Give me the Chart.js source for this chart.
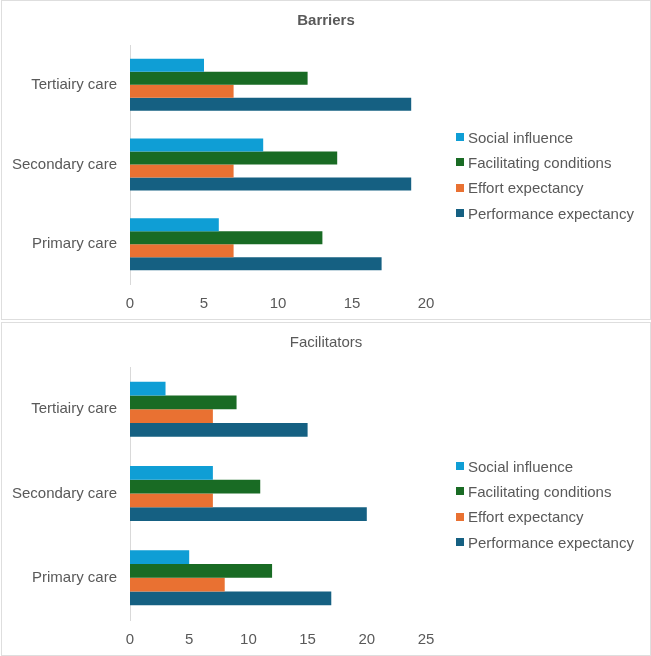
<!DOCTYPE html>
<html>
<head>
<meta charset="utf-8">
<script src="https://cdn.jsdelivr.net/npm/chart.js@4.4.0/dist/chart.umd.min.js"></script>
<style>
html,body{margin:0;padding:0;background:#fff;width:651px;height:656px;overflow:hidden;font-family:"Liberation Sans",Arial,sans-serif;}
.box{position:absolute;left:1px;width:650px;box-sizing:border-box;border:1px solid #dedede;background:#fff;}
#boxA{top:0;height:320px;}
#boxB{top:322px;height:334px;}
canvas{position:absolute;left:0;top:0;}
.item{position:absolute;left:454px;height:18px;display:flex;align-items:center;font-size:15px;color:#595959;white-space:nowrap;}
.sw{display:inline-block;width:8px;height:8px;margin-right:4px;}
</style>
</head>
<body>
<div class="box" id="boxA"><canvas id="chartA" width="648" height="318" style="width:648px;height:318px"></canvas></div>
<div class="box" id="boxB"><canvas id="chartB" width="648" height="332" style="width:648px;height:332px"></canvas></div>
<script>
// ---- data ----
const categories = ['Tertiairy care', 'Secondary care', 'Primary care'];
const seriesNames = ['Social influence', 'Facilitating conditions', 'Effort expectancy', 'Performance expectancy'];
const seriesColors = ['#0F9ED5', '#196B24', '#E97132', '#156082'];

const barriersSocial = [5, 9, 6];
const barriersFacilitating = [12, 14, 13];
const barriersEffort = [7, 7, 7];
const barriersPerformance = [19, 19, 17];

const facilitatorsSocial = [3, 7, 5];
const facilitatorsFacilitating = [9, 11, 12];
const facilitatorsEffort = [7, 7, 8];
const facilitatorsPerformance = [15, 20, 17];

const barriersTicks = [0, 5, 10, 15, 20];
const facilitatorsTicks = [0, 5, 10, 15, 20, 25];

// ---- chart ----
Chart.defaults.font.family = '"Liberation Sans", Arial, sans-serif';
Chart.defaults.color = '#595959';

function makeChart(canvasId, title, bold, seriesValues, ticks, boxEl, legendCenters) {
  const datasets = seriesNames.map((name, i) => ({
    label: name,
    data: seriesValues[i],
    backgroundColor: seriesColors[i],
    borderWidth: 0,
    barPercentage: 1,
    categoryPercentage: 0.652,
    yAxisID: 'y'
  }));
  const canvas = document.getElementById(canvasId);
  new Chart(canvas, {
    type: 'bar',
    data: { labels: categories, datasets: datasets },
    options: {
      indexAxis: 'y',
      responsive: false,
      animation: false,
      layout: { padding: 0 },
      plugins: {
        legend: { display: false },
        tooltip: { enabled: false },
        title: {
          display: true,
          text: title,
          color: '#595959',
          font: { size: 15, weight: bold ? 'bold' : 'normal' },
          padding: { top: 11, bottom: 15 }
        }
      },
      scales: {
        x: {
          type: 'linear',
          min: ticks[0],
          max: ticks[ticks.length - 1],
          afterBuildTicks: (s) => { s.ticks = ticks.map(v => ({ value: v })); },
          afterFit: (s) => { s.height = 35; },
          grid: { display: false, drawTicks: false },
          border: { display: false },
          ticks: { font: { size: 15 }, color: '#595959', padding: 11 }
        },
        y: {
          type: 'category',
          afterFit: (s) => { s.width = 128; },
          grid: { display: false, drawTicks: false },
          border: { display: true, color: '#d9d9d9', width: 1 },
          ticks: { font: { size: 15 }, color: '#595959', padding: 13 }
        },
        // empty right-side area reserved for the legend
        yRight: {
          type: 'category',
          position: 'right',
          afterFit: (s) => { s.width = 224; },
          grid: { display: false, drawTicks: false },
          border: { display: false },
          ticks: { display: false }
        }
      }
    }
  });
  // legend as real text
  seriesNames.forEach((name, i) => {
    const it = document.createElement('div');
    it.className = 'item';
    it.style.top = (legendCenters[i] - 9) + 'px';
    const sw = document.createElement('span');
    sw.className = 'sw';
    sw.style.background = seriesColors[i];
    it.appendChild(sw);
    it.appendChild(document.createTextNode(name));
    boxEl.appendChild(it);
  });
}

makeChart('chartA', 'Barriers', true,
  [barriersSocial, barriersFacilitating, barriersEffort, barriersPerformance],
  barriersTicks, document.getElementById('boxA'), [136, 161.3, 186.6, 212]);
makeChart('chartB', 'Facilitators', false,
  [facilitatorsSocial, facilitatorsFacilitating, facilitatorsEffort, facilitatorsPerformance],
  facilitatorsTicks, document.getElementById('boxB'), [143, 168.3, 193.6, 219]);
</script>
</body>
</html>
